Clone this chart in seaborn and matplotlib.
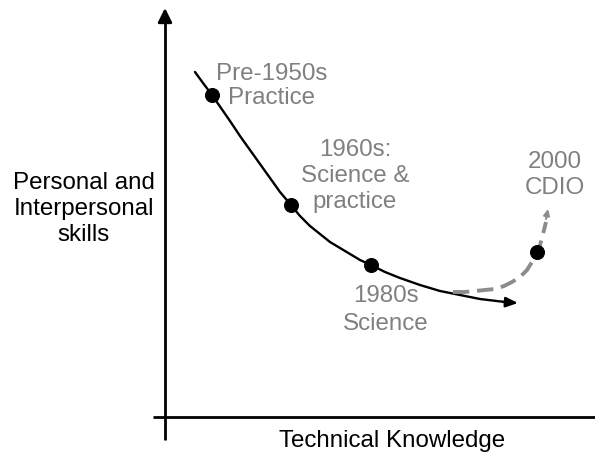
import matplotlib
matplotlib.use("Agg")
import matplotlib.pyplot as plt
import seaborn as sns
import pandas as pd

sns.set_theme(style="white")
plt.rcParams['font.family'] = ['Liberation Sans', 'DejaVu Sans']

# --- data (in picture pixel units) ---
trend_x = [195, 203, 212, 221, 230, 240, 250, 260, 270, 280, 291, 300, 310, 320, 330, 340,
           350, 360, 371, 385, 400, 420, 440, 460, 480, 505]
trend_y = [72, 83, 95, 108, 121, 136, 150, 164, 178, 192, 205, 216, 226, 234, 242, 248,
           254, 260, 265, 272, 278, 285, 291, 295, 299, 302]
cdio_x = [453, 465, 475, 485, 495, 504, 512, 520, 527, 532, 537, 540, 542, 544, 546]
cdio_y = [292, 292, 291, 290, 289, 286, 282, 277, 270, 262, 252, 245, 238, 230, 222]
era_x = [212, 291, 371, 537]
era_y = [95, 205, 265, 252]
era_labels = ["Pre-1950s\nPractice", "1960s:\nScience &\npractice", "1980s\nScience", "2000\nCDIO"]
label_x = [272, 355, 386, 555]
label_y = [86, 176, 310, 175]
label_ls = [1.1, 1.26, 1.35, 1.26]
x_title = "Technical Knowledge"
y_title = "Personal and\nInterpersonal\nskills"

FS = 17.4
GRAY = "#808080"
fig = plt.figure(figsize=(5.95, 4.57), dpi=100)
ax = fig.add_axes([0, 0, 1, 1])
ax.set_xlim(0, 595)
ax.set_ylim(457, 0)
ax.axis("off")

# axes lines
ax.plot([165, 165], [440, 20], color="black", lw=2, solid_capstyle="butt")
ax.annotate("", xy=(165, 8), xytext=(165, 22),
            arrowprops=dict(arrowstyle="-|>,head_length=0.7,head_width=0.35", color="black", lw=2,
                            shrinkA=0, shrinkB=0))
ax.plot([153, 595], [417, 417], color="black", lw=2, solid_capstyle="butt")

trend = pd.DataFrame({"x": trend_x, "y": trend_y})
sns.lineplot(data=trend, x="x", y="y", sort=False, ax=ax, color="black", lw=1.7, estimator=None)
ax.annotate("", xy=(518, 303), xytext=(503, 302),
            arrowprops=dict(arrowstyle="-|>,head_length=0.6,head_width=0.25", color="black", lw=1.7,
                            shrinkA=0, shrinkB=0))

cdio = pd.DataFrame({"x": cdio_x, "y": cdio_y})
sns.lineplot(data=cdio, x="x", y="y", sort=False, ax=ax, color="#8c8c8c", lw=2.8,
             estimator=None, dashes=False, linestyle=(0, (4.2, 2.0)))
ax.annotate("", xy=(548, 209), xytext=(546, 219),
            arrowprops=dict(arrowstyle="-|>,head_length=0.3,head_width=0.15", color="#8c8c8c", lw=1.5,
                            shrinkA=0, shrinkB=0))

eras = pd.DataFrame({"x": era_x, "y": era_y})
sns.scatterplot(data=eras, x="x", y="y", ax=ax, color="black", s=100, edgecolor="black", zorder=5)

for lx, ly, txt, ls in zip(label_x, label_y, era_labels, label_ls):
    ax.text(lx, ly, txt, ha="center", va="center", fontsize=FS, color=GRAY, linespacing=ls)

ax.text(84, 209, y_title, ha="center", va="center", fontsize=FS, color="black", linespacing=1.26)
ax.text(392, 441, x_title, ha="center", va="center", fontsize=FS, color="black")
ax.set_xlabel("")
ax.set_ylabel("")

fig.savefig("out.png", dpi=100)
